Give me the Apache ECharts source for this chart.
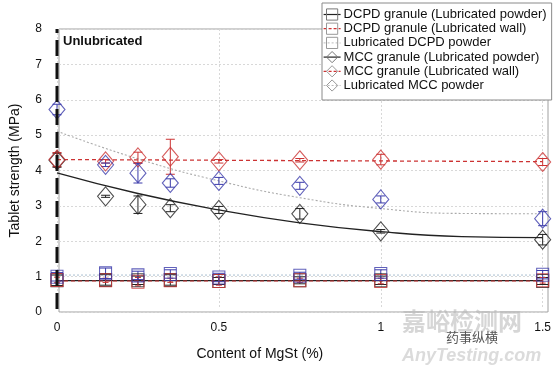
<!DOCTYPE html>
<html><head><meta charset="utf-8">
<script src="https://cdn.jsdelivr.net/npm/echarts@6/dist/echarts.min.js"></script>
<style>html,body{margin:0;padding:0;background:#fff}#c{width:554px;height:366px}</style>
</head><body><div id="c"></div>
<script>
// ---- data ----
const xPoints = [0, 0.15, 0.25, 0.35, 0.5, 0.75, 1.0, 1.5];
const seriesNames = [
  'DCPD granule (Lubricated powder)',
  'DCPD granule (Lubricated wall)',
  'Lubricated DCPD powder',
  'MCC granule (Lubricated powder)',
  'MCC granule (Lubricated wall)',
  'Lubricated MCC powder'
];
const dcpdGranPowder = [0.82, 0.83, 0.82, 0.83, 0.80, 0.82, 0.82, 0.80];
const dcpdGranPowderErr = [0.15, 0.15, 0.12, 0.15, 0.10, 0.10, 0.12, 0.10];
const dcpdGranWall = [0.83, 0.82, 0.78, 0.82, 0.80, 0.82, 0.80, 0.82];
const dcpdGranWallErr = [0.08, 0.06, 0.12, 0.06, 0.12, 0.06, 0.08, 0.08];
const dcpdPowder = [0.92, 1.02, 0.96, 1.00, 0.90, 0.95, 1.00, 0.98];
const dcpdPowderErr = [0.12, 0.15, 0.12, 0.12, 0.12, 0.10, 0.12, 0.12];
const mccGranPowder = [4.25, 3.22, 2.98, 2.88, 2.83, 2.72, 2.22, 1.98];
const mccGranPowderErr = [0.20, 0.03, 0.25, 0.10, 0.10, 0.15, 0.05, 0.15];
const mccGranWall = [4.27, 4.22, 4.33, 4.35, 4.22, 4.25, 4.27, 4.20];
const mccGranWallErr = [0.20, 0.05, 0.15, 0.50, 0.05, 0.05, 0.15, 0.10];
const mccPowder = [5.70, 4.12, 3.88, 3.60, 3.66, 3.52, 3.13, 2.58];
const mccPowderErr = [0.15, 0.05, 0.28, 0.12, 0.10, 0.10, 0.10, 0.20];

const fitX = [0, 0.25, 0.5, 0.75, 1.0, 1.25, 1.5];
const fitMccGranPowder = [3.89, 3.30, 2.83, 2.46, 2.21, 2.07, 2.04];
const fitMccPowder = [5.08, 4.29, 3.66, 3.18, 2.87, 2.73, 2.72];
const lineX = [0, 1.5];
const fitMccGranWall = [4.27, 4.21];
const fitDcpdGranPowder = [0.81, 0.81];
const fitDcpdGranWall = [0.80, 0.80];
const fitDcpdPowder = [0.97, 0.97];
const unlubX = [0, 0];
const unlubY = [0, 8];

const xTickValues = [0, 0.5, 1, 1.5];
const yMin = 0, yMax = 8, yStep = 1;

// ---- styling ----
const FONT = 'Liberation Sans, Arial, sans-serif';
const BLACK = '#222', RED = '#cc3333', BLUE = '#3a3aaa';

const zip = (xs, ys) => xs.map((x, i) => [x, ys[i]]);
const errData = (ys, es) => xPoints.map((x, i) => [x, ys[i] - es[i], ys[i] + es[i]]);

function errRender(capW) {
  return function (params, api) {
    const x = api.value(0), lo = api.value(1), hi = api.value(2);
    const p1 = api.coord([x, lo]), p2 = api.coord([x, hi]);
    const st = { stroke: api.visual('color'), lineWidth: 1 };
    return { type: 'group', children: [
      { type: 'line', shape: { x1: p1[0], y1: p1[1], x2: p2[0], y2: p2[1] }, style: st },
      { type: 'line', shape: { x1: p1[0] - capW / 2, y1: p1[1], x2: p1[0] + capW / 2, y2: p1[1] }, style: st },
      { type: 'line', shape: { x1: p2[0] - capW / 2, y1: p2[1], x2: p2[0] + capW / 2, y2: p2[1] }, style: st }
    ]};
  };
}

function fitLine(name, xs, ys, color, type, width, symbol, smooth) {
  return { name, type: 'line', xAxisIndex: 0, yAxisIndex: 0, data: zip(xs, ys),
    smooth: smooth ? 0.5 : false, showSymbol: false, symbol, silent: true,
    lineStyle: { color, type, width }, itemStyle: { color: 'transparent', borderColor: color, borderWidth: 1 }, z: 2 };
}
function markers(name, ys, color, symbol, size) {
  return { name, type: 'scatter', xAxisIndex: 0, yAxisIndex: 0, data: zip(xPoints, ys),
    symbol, symbolSize: size,
    itemStyle: { color: 'transparent', borderColor: color, borderWidth: 1.1 }, z: 4 };
}
function errs(ys, es, color, cap) {
  return { type: 'custom', xAxisIndex: 0, yAxisIndex: 0, data: errData(ys, es),
    renderItem: errRender(cap), itemStyle: { color }, encode: { x: 0, y: [1, 2] }, z: 3, silent: true };
}

const chart = echarts.init(document.getElementById('c'), null, { renderer: 'canvas' });
const option = {
  animation: false,
  backgroundColor: '#fff',
  grid: [
    { left: 57, right: 11, top: 29, bottom: 54, show: false },
    { left: 52, right: 6, top: 29, bottom: 54, show: true, borderColor: '#a0a0a0', borderWidth: 1, backgroundColor: 'transparent' }
  ],
  xAxis: [
    { type: 'value', gridIndex: 0, min: 0, max: 1.5, interval: 0.5,
      name: 'Content of MgSt (%)', nameLocation: 'middle', nameGap: 38,
      nameTextStyle: { fontSize: 14, color: '#111', fontFamily: FONT, padding: [0, 80, 0, 0] },
      axisLine: { show: false }, axisTick: { show: false },
      axisLabel: { fontSize: 12, color: '#111', fontFamily: FONT, margin: 13,
        formatter: v => (xTickValues.indexOf(v) >= 0 ? String(v) : '') },
      splitLine: { show: true, lineStyle: { color: '#d8d8d8', type: [2, 2], width: 1 } } },
    { type: 'value', gridIndex: 1, min: 0, max: 1, show: false }
  ],
  yAxis: [
    { type: 'value', gridIndex: 0, min: yMin, max: yMax, interval: yStep, show: false },
    { type: 'value', gridIndex: 1, min: yMin, max: yMax, interval: yStep,
      name: 'Tablet strength (MPa)', nameLocation: 'middle', nameGap: 37,
      nameTextStyle: { fontSize: 14, color: '#111', fontFamily: FONT },
      axisLine: { show: false }, axisTick: { show: false },
      axisLabel: { fontSize: 12, color: '#111', fontFamily: FONT, margin: 17 },
      splitLine: { show: true, lineStyle: { color: '#d8d8d8', type: [2, 2], width: 1 } } }
  ],
  legend: {
    orient: 'vertical', left: 322, top: 3, itemWidth: 17, itemHeight: 14, itemGap: 1.2,
    padding: [5, 5, 8, 1], backgroundColor: '#fff', borderColor: '#8a8a8a', borderWidth: 1,
    textStyle: { fontSize: 13, color: '#111', fontFamily: FONT, padding: [0, 0, 0, -2] },
    selectedMode: false,
    data: [
      { name: seriesNames[0], itemStyle: { color: 'transparent', borderColor: '#777', borderWidth: 1 }, lineStyle: { color: BLACK, width: 1.2, type: 'solid' } },
      { name: seriesNames[1], itemStyle: { color: 'transparent', borderColor: '#999', borderWidth: 1 }, lineStyle: { color: RED, width: 1.2, type: [3, 2] } },
      { name: seriesNames[2], itemStyle: { color: 'transparent', borderColor: '#999', borderWidth: 1 }, lineStyle: { color: '#bbb', width: 1, type: [2, 2] } },
      { name: seriesNames[3], itemStyle: { color: 'transparent', borderColor: '#777', borderWidth: 1 }, lineStyle: { color: BLACK, width: 1.2, type: 'solid' } },
      { name: seriesNames[4], itemStyle: { color: 'transparent', borderColor: '#999', borderWidth: 1 }, lineStyle: { color: RED, width: 1.2, type: [3, 2] } },
      { name: seriesNames[5], itemStyle: { color: 'transparent', borderColor: '#999', borderWidth: 1 }, lineStyle: { color: '#bbb', width: 1, type: [2, 2] } }
    ]
  },
  series: [
    fitLine(seriesNames[0], lineX, fitDcpdGranPowder, BLACK, 'solid', 1.3, 'rect', false),
    fitLine(seriesNames[1], lineX, fitDcpdGranWall, RED, [4, 3], 1.2, 'rect', false),
    fitLine(seriesNames[2], lineX, fitDcpdPowder, '#a8bfd0', [2, 2], 1, 'rect', false),
    fitLine(seriesNames[3], fitX, fitMccGranPowder, BLACK, 'solid', 1.3, 'diamond', true),
    fitLine(seriesNames[4], lineX, fitMccGranWall, RED, [4, 3], 1.3, 'diamond', false),
    fitLine(seriesNames[5], fitX, fitMccPowder, '#aaaaaa', [2, 2], 1.1, 'diamond', true),
    { type: 'line', xAxisIndex: 0, yAxisIndex: 0, data: zip(unlubX, unlubY), showSymbol: false, silent: true,
      lineStyle: { color: '#111', width: 3, type: [16, 7] }, z: 5 },
    errs(dcpdGranPowder, dcpdGranPowderErr, BLACK, 12),
    errs(dcpdGranWall, dcpdGranWallErr, RED, 6),
    errs(dcpdPowder, dcpdPowderErr, BLUE, 12),
    errs(mccGranPowder, mccGranPowderErr, BLACK, 9),
    errs(mccGranWall, mccGranWallErr, RED, 9),
    errs(mccPowder, mccPowderErr, BLUE, 9),
    markers(seriesNames[0], dcpdGranPowder, BLACK, 'rect', [12, 13]),
    markers(seriesNames[1], dcpdGranWall, RED, 'rect', [12, 13]),
    markers(seriesNames[2], dcpdPowder, BLUE, 'rect', [12, 13]),
    markers(seriesNames[3], mccGranPowder, BLACK, 'diamond', [16, 19]),
    markers(seriesNames[4], mccGranWall, RED, 'diamond', [16, 19]),
    markers(seriesNames[5], mccPowder, BLUE, 'diamond', [16, 19])
  ],
  graphic: [
    { type: 'text', left: 63, top: 35, z: 10, style: { text: 'Unlubricated', font: 'bold 13px ' + FONT, fill: '#111' } },
    { type: 'text', left: 402, top: 309, z: 10, silent: true, style: { text: '嘉峪检测网', font: 'bold 24px "Noto Sans CJK SC"', fill: 'rgba(180,180,180,0.55)' } },
    { type: 'text', left: 402, top: 347, z: 10, silent: true, style: { text: 'AnyTesting.com', font: 'italic bold 18px ' + FONT, fill: 'rgba(190,190,190,0.55)' } },
    { type: 'text', left: 446, top: 331, z: 11, silent: true, style: { text: '药事纵横', font: '13px "Noto Sans CJK SC"', fill: '#555' } }
  ]
};
chart.setOption(option);
</script>
</body></html>
